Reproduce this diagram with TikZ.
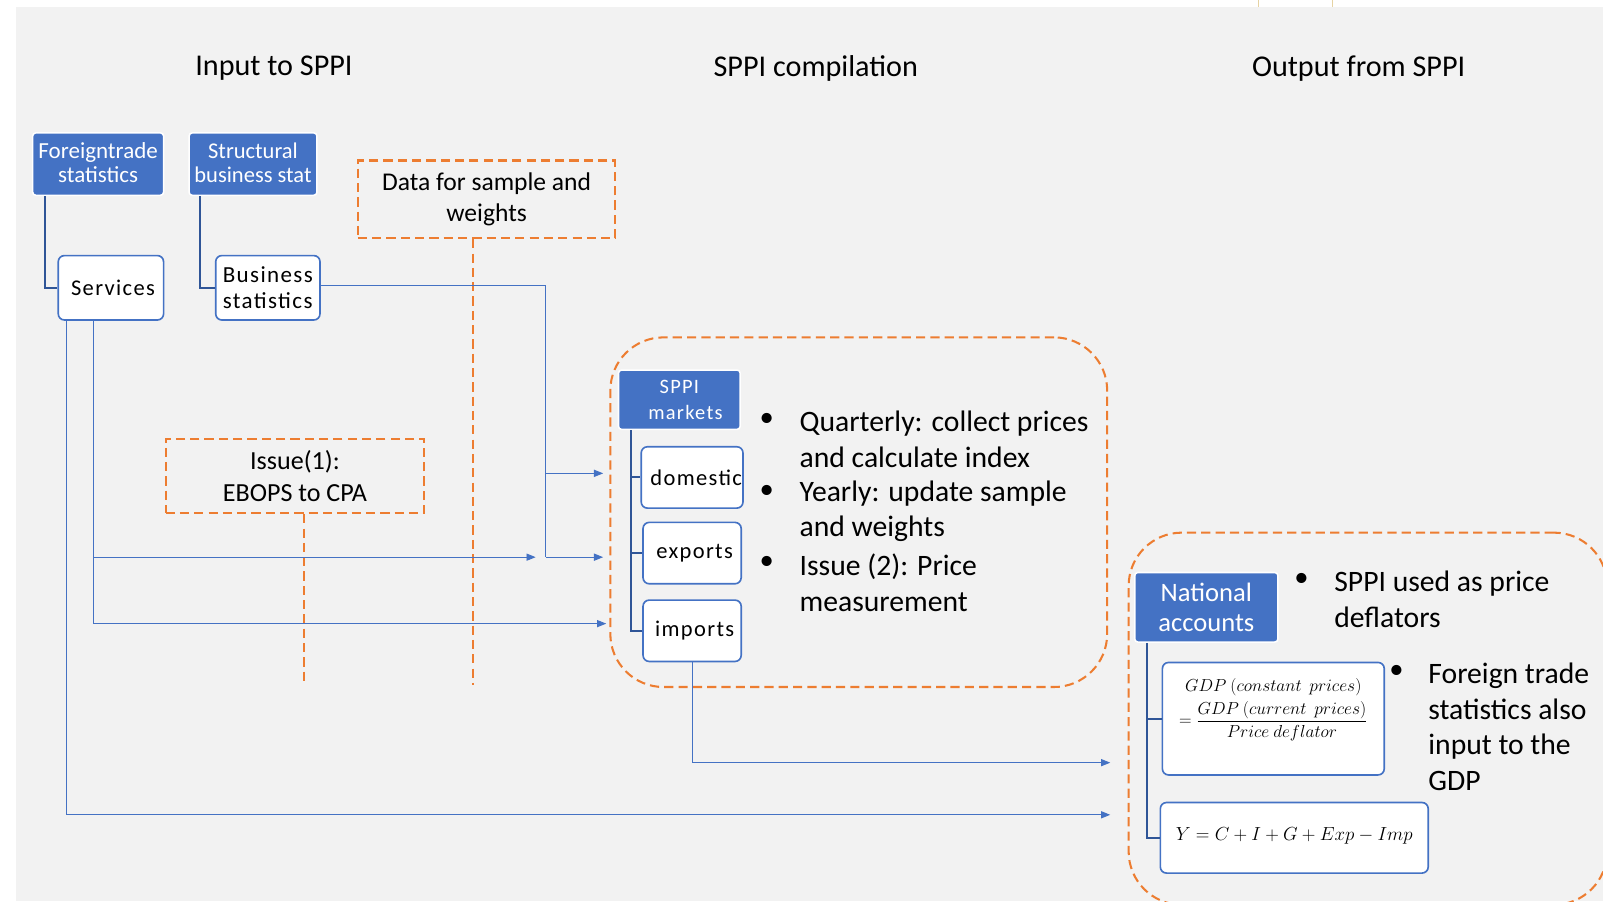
\RequirePackage{fix-cm}
\documentclass[tikz,border=0pt]{standalone}
\usepackage{amsmath}
\usepackage{fontspec}
\setmainfont{Carlito}
\newfontfamily\spacedfont[LetterSpace=6]{Carlito}
\usetikzlibrary{positioning, arrows.meta}
\definecolor{bggray}{HTML}{F2F2F2}
\definecolor{accblue}{HTML}{4472C4}
\definecolor{darkblue}{HTML}{2F5597}
\definecolor{accorange}{HTML}{ED7D31}
\definecolor{tan}{HTML}{E6D3A3}
\tikzset{
    arrow/.style={draw=accblue,line width=0.9pt,-{Triangle[length=9pt,width=7pt]}},
    bluebox/.style={shape=rectangle,draw=white,line width=1.5pt,fill=accblue,text=white,
        rounded corners=3pt,align=center,inner sep=1pt},
    whitebox/.style={shape=rectangle,draw=accblue,line width=1.6pt,fill=white,
        rounded corners=6pt,align=center,inner sep=1pt},
    orangebox/.style={shape=rectangle,draw=accorange,line width=2pt,
        dash pattern=on 9pt off 5pt,align=center},
    orangeline/.style={draw=accorange,line width=2pt,dash pattern=on 9pt off 5pt},
    tree/.style={draw=darkblue,line width=2pt},
    title/.style={font=\fontsize{29.5}{34}\selectfont},
    bullettext/.style={align=left,anchor=west,inner sep=0pt,font=\fontsize{29}{35}\selectfont},
    bulletdot/.style={inner sep=0pt,font=\fontsize{28}{35}\selectfont}
}

\begin{document}
\begin{tikzpicture}[x=1pt,y=-1pt]
    % page and background
    \useasboundingbox (0,0) rectangle (1568,881.4);
    \fill [bggray] (15.5,6.9) rectangle (1568,881.4);
    \draw [tan, line width=1pt] (1231,0) -- (1231,6.9) (1303.5,0) -- (1303.5,6.9);

    % column titles
    \node [title] at (268,67)  (tin)  {Input to SPPI};
    \node [title] at (798,67)  (tcmp) {SPPI compilation};
    \node [title] at (1329,67) (tout) {Output from SPPI};

    % dashed containers
    \node [orangebox, rounded corners=52pt, minimum width=486pt, minimum height=342pt] at (840,501) (comp) {};
    \begin{scope}
        \clip (15.5,6.9) rectangle (1568,881.4);
        \node [orangebox, rounded corners=52pt, minimum width=468pt, minimum height=364pt,
            anchor=north west] at (1103,520) (outp) {};
    \end{scope}

    % input nodes
    \node [bluebox, minimum width=128pt, minimum height=61pt, font=\fontsize{22.5}{24}\selectfont]
        at (96,160.5) (ft) {Foreigntrade\\statistics\rule[-3pt]{0pt}{0pt}};
    \node [bluebox, minimum width=125pt, minimum height=61pt, font=\fontsize{22}{24}\selectfont]
        at (247.5,160.5) (sbs) {Structural\\business stat\rule[-3pt]{0pt}{0pt}};
    \node [whitebox, minimum width=103pt, minimum height=63pt, font=\spacedfont\fontsize{22}{25}\selectfont]
        at (108.5,281.5) (serv) {\hspace*{4pt}Services};
    \node [whitebox, minimum width=102pt, minimum height=63pt, align=left, font=\spacedfont\fontsize{22.5}{25}\selectfont]
        at (262,281.5) (bstat) {Business\\statistics};
    \node [orangebox, minimum width=252pt, minimum height=76pt, font=\fontsize{25}{31}\selectfont]
        at (476,195) (data) {Data for sample and\\weights};
    \node [orangebox, minimum width=253pt, minimum height=73pt, font=\fontsize{25.5}{31}\selectfont]
        at (288.5,465.5) (issue) {Issue(1):\\EBOPS to CPA};

    % compilation nodes
    \node [bluebox, minimum width=119pt, minimum height=58pt, font=\spacedfont\fontsize{20}{25}\selectfont]
        at (664.5,391) (mkt) {SPPI\\\hspace*{12pt}markets};
    \node [whitebox, minimum width=96pt, minimum height=60pt, font=\spacedfont\fontsize{22}{25}\selectfont]
        at (677,467) (dom) {\hspace*{8pt}domestic};
    \node [whitebox, minimum width=96pt, minimum height=60pt, font=\spacedfont\fontsize{22}{25}\selectfont]
        at (677,541) (exp) {\hspace*{5pt}exports};
    \node [whitebox, minimum width=96pt, minimum height=60pt, font=\spacedfont\fontsize{22}{25}\selectfont]
        at (677,617) (imp) {\hspace*{5pt}imports};

    \node [bulletdot] at (750,411) (b1) {\textbullet};
    \node [bulletdot] at (750,481) (b2) {\textbullet};
    \node [bulletdot] at (750,551) (b3) {\textbullet};
    \node [bullettext] at (782,430) (q1) {Quarterly: collect prices\\and calculate index};
    \node [bullettext] at (782,500) (q2) {Yearly: update sample\\and weights};
    \node [bullettext] at (782,570) (q3) {Issue (2): Price\\measurement};

    % output nodes
    \node [bluebox, minimum width=140pt, minimum height=68pt, font=\fontsize{26}{29}\selectfont]
        at (1180,594) (nat) {National\\accounts};
    \node [whitebox, minimum width=217pt, minimum height=110pt, font=\fontsize{17}{20}\selectfont]
        at (1245.5,703) (form1)
        {$GDP\ (constant\ \ prices)$\\[4pt]$=\dfrac{GDP\ (current\ \ prices)}{Price\ deflator}$\rule[-32pt]{0pt}{0pt}};
    \node [whitebox, minimum width=262pt, minimum height=69pt, font=\fontsize{18.5}{23}\selectfont]
        at (1266,819.5) (form2) {$Y=C+I+G+Exp-Imp$\rule[-8pt]{0pt}{0pt}};

    \node [bulletdot] at (1273,567) (b4) {\textbullet};
    \node [bulletdot] at (1366,657) (b5) {\textbullet};
    \node [bullettext] at (1305,586) (o1) {SPPI used as price\\deflators};
    \node [bullettext] at (1397,711) (o2) {Foreign trade\\statistics also\\input to the\\GDP};

    % dashed guide lines
    \coordinate (dataend)  at (463,670);
    \coordinate (issueend) at (297,668);
    \draw [orangeline] (data.south -| dataend) -- (dataend);
    \draw [orangeline] (issue.south -| issueend) -- (issueend);

    % tree lines
    \coordinate (ftx)  at ([xshift=13pt]ft.south west);
    \coordinate (sbsx) at ([xshift=11pt]sbs.south west);
    \coordinate (mktx) at ([xshift=13pt]mkt.south west);
    \coordinate (natx) at ([xshift=13pt]nat.south west);
    \draw [tree] (ftx) |- (serv.west);
    \draw [tree] (sbsx) |- (bstat.west);
    \draw [tree] (mktx) |- (dom.west) (mktx) |- (exp.west) (mktx) |- (imp.west);
    \draw [tree] (natx) |- (form1.west) (natx) |- (form2.west);

    % arrow end points
    \coordinate (jn)  at (534,463);
    \coordinate (e1)  at (590,463);
    \coordinate (e2)  at (590,545);
    \coordinate (sx1) at (524,545);
    \coordinate (sx2) at (593,610);
    \coordinate (sx3) at (1086,797);
    \coordinate (sx4) at (1086,746);
    \coordinate (sv1) at ([xshift=-17.5pt]serv.south);
    \coordinate (sv2) at ([xshift=-43.5pt]serv.south);

    % draw arrows
    \begin{scope}[arrow]
        \draw ([yshift=2.5pt]bstat.east) -| (jn) -- (e1);
        \draw [-] (jn) -- (jn |- e2);
        \draw (jn |- e2) -- (e2);
        \draw (sv1) |- (sx1);
        \draw (sv1) |- (sx2);
        \draw (sv2) |- (sx3);
        \draw (imp.south) |- (sx4);
    \end{scope}
\end{tikzpicture}
\end{document}
